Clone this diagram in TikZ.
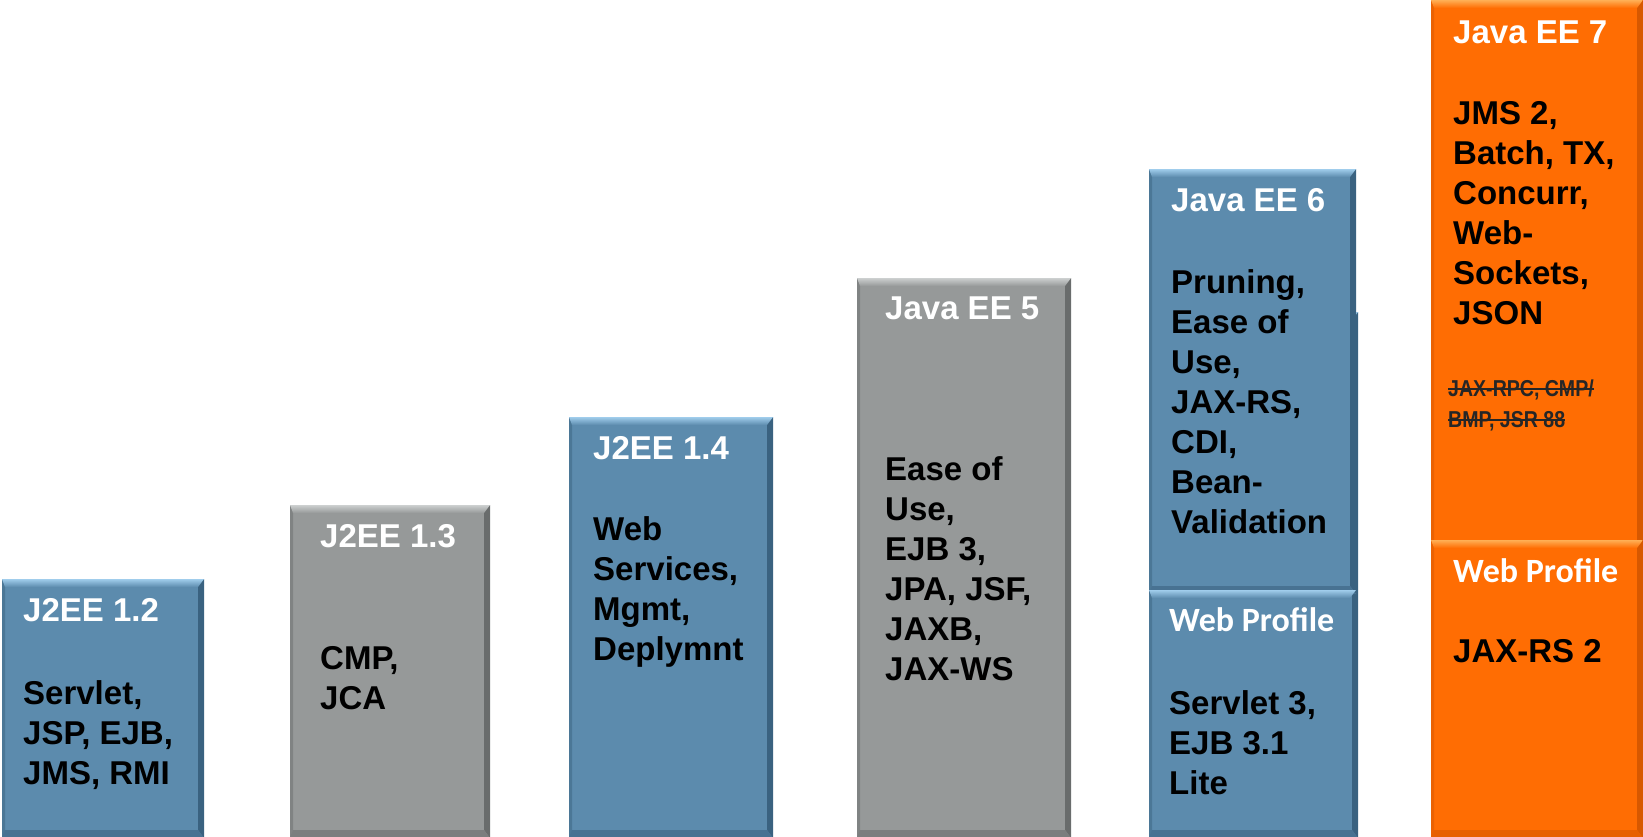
\documentclass[tikz,border=0pt]{standalone}
\usepackage{fontspec}
\setmainfont{Liberation Sans}
\newfontfamily\calib{Carlito}
\newfontfamily\narrowsans[FakeStretch=0.85]{Liberation Sans}
\definecolor{jblue}{RGB}{92,139,173}
\definecolor{jbluel}{RGB}{160,205,236}
\definecolor{jblued}{RGB}{58,98,128}
\definecolor{jgray}{RGB}{150,153,153}
\definecolor{jgrayl}{RGB}{205,208,208}
\definecolor{jgrayd}{RGB}{105,108,108}
\definecolor{jorange}{RGB}{255,109,3}
\definecolor{jorangel}{RGB}{255,175,85}
\definecolor{joranged}{RGB}{215,88,0}
\newcommand\bevbox[7]{%
  \fill[#5] (#1,#2) rectangle (#3,#4);
  \fill[#7!50!#5] (#1,#2) -- (#1+3,#2+3) -- (#1+3,#4-4) -- (#1,#4) -- cycle;
  \fill[#7] (#3,#2) -- (#3-6,#2+7) -- (#3-6,#4-8) -- (#3,#4) -- cycle;
  \fill[#7!60!#5] (#1,#4) -- (#1+3,#4-8) -- (#3-6,#4-8) -- (#3,#4) -- cycle;
  \shade[top color=#6, bottom color=#5] (#1,#2) -- (#3,#2) -- (#3-6,#2+8) -- (#1+3,#2+8) -- cycle;
}
\newcommand\bevtop[5]{% x1 y x2 light base
  \shade[top color=#4, bottom color=#5] (#1,#2) -- (#3,#2) -- (#3-6,#2+8) -- (#1+3,#2+8) -- cycle;
}
\begin{document}
\begin{tikzpicture}[x=1pt,y=-1pt,
  ttl/.style={anchor=base west, inner sep=0, text=white, font=\bfseries\fontsize{33}{40}\selectfont},
  bod/.style={anchor=base west, inner sep=0, align=left, text=black, font=\bfseries\fontsize{33}{40}\selectfont},
  wp/.style={anchor=base west, inner sep=0, text=white, font=\calib\bfseries\fontsize{34}{40}\selectfont},
  strk/.style={anchor=base west, inner sep=0, text=black!85, font=\narrowsans\bfseries\fontsize{23}{28}\selectfont},
  strkline/.style={black!85, line width=2pt}]
\useasboundingbox (0,0) rectangle (1643,836);
% boxes
\bevbox{2}{579}{204}{838}{jblue}{jbluel}{jblued}
\bevbox{290}{505}{490}{838}{jgray}{jgrayl}{jgrayd}
\bevbox{569}{417}{773}{838}{jblue}{jbluel}{jblued}
\bevbox{857}{278}{1071}{838}{jgray}{jgrayl}{jgrayd}
\bevbox{1149}{312}{1358}{838}{jblue}{jbluel}{jblued}
\bevbox{1149}{169}{1356}{594}{jblue}{jbluel}{jblued}
\bevtop{1149}{590}{1356}{jbluel}{jblue}
\bevbox{1431}{0}{1643}{838}{jorange}{jorangel}{joranged}
\bevtop{1431}{540}{1643}{jorangel}{jorange}
% texts (body nodes: base = baseline of last line)
\node[ttl] (t1) at (23,621) {J2EE 1.2};
\node[bod] (b1) at (23,784) {Servlet,\\JSP, EJB,\\JMS, RMI};
\node[ttl] (t2) at (320,547) {J2EE 1.3};
\node[bod] (b2) at (320,709) {CMP,\\JCA};
\node[ttl] (t3) at (593,459) {J2EE 1.4};
\node[bod] (b3) at (593,660) {Web\\Services,\\Mgmt,\\Deplymnt};
\node[ttl] (t4) at (885,319) {Java EE 5};
\node[bod] (b4) at (885,680) {Ease of\\Use,\\EJB 3,\\JPA, JSF,\\JAXB,\\JAX-WS};
\node[ttl] (t5) at (1171,211) {Java EE 6};
\node[bod] (b5) at (1171,533) {Pruning,\\Ease of\\Use,\\JAX-RS,\\CDI,\\Bean-\\Validation};
\node[wp] (w5) at (1169,631) {Web Profile};
\node[bod] (c5) at (1169,794) {Servlet 3,\\EJB 3.1\\Lite};
\node[ttl] (t6) at (1453,43) {Java EE 7};
\node[bod] (b6) at (1453,324) {JMS 2,\\Batch, TX,\\Concurr,\\Web-\\Sockets,\\JSON};
\node[strk] (s6a) at (1448,396) {JAX-RPC, CMP/};
\node[strk] (s6b) at (1448,427) {BMP, JSR 88};
\draw[strkline] ([yshift=7pt]s6a.base west) -- ([yshift=7pt]s6a.base east);
\draw[strkline] ([yshift=7pt]s6b.base west) -- ([yshift=7pt]s6b.base east);
\node[wp] (w6) at (1453,582) {Web Profile};
\node[bod] (c6) at (1453,662) {JAX-RS 2};
\end{tikzpicture}
\end{document}
